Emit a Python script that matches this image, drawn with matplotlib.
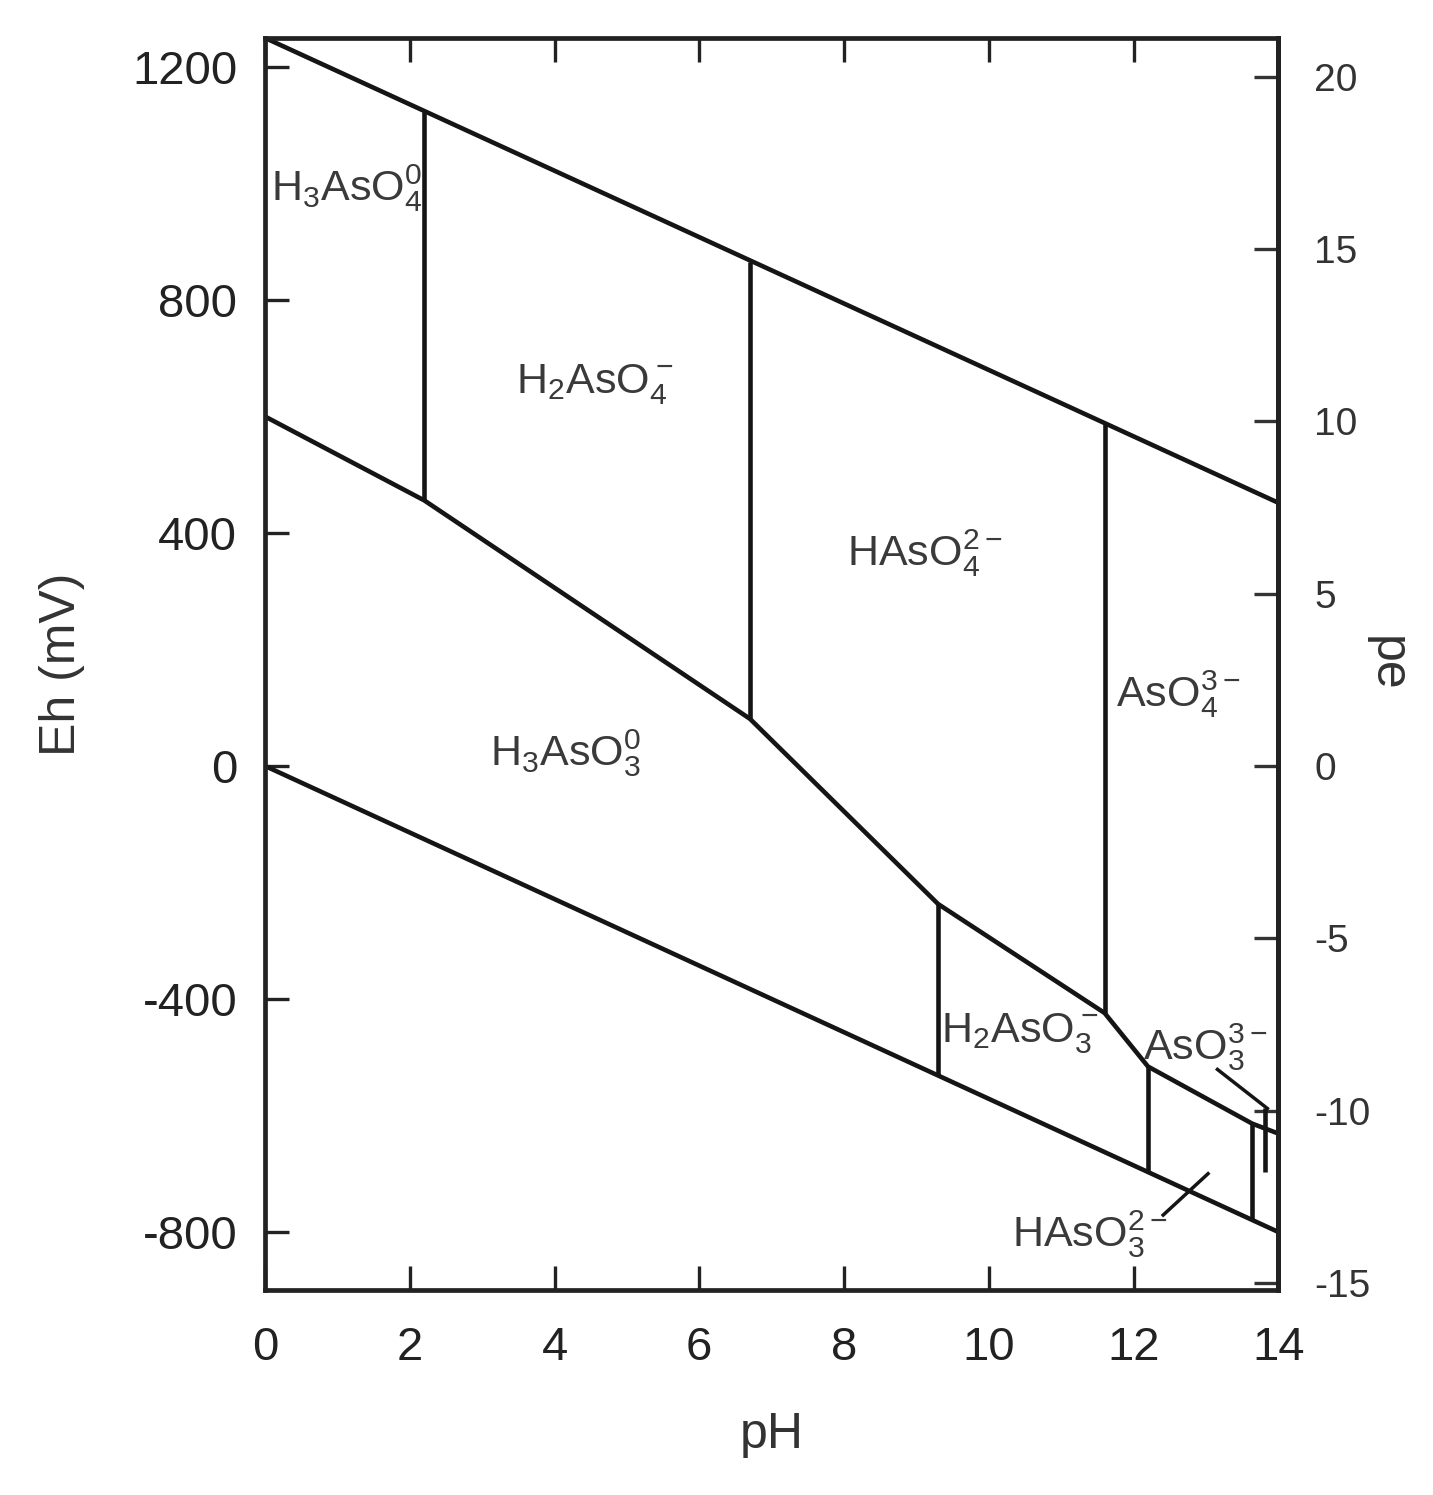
import matplotlib.pyplot as plt

plt.rcParams["font.family"] = ["Liberation Sans", "DejaVu Sans"]
plt.rcParams["axes.unicode_minus"] = False
plt.rcParams["mathtext.fontset"] = "custom"
plt.rcParams["mathtext.rm"] = "Liberation Sans"

# water stability limits
upper_ph = [0, 14]
upper_eh = [1250, 452]
lower_ph = [0, 14]
lower_eh = [0, -800]

# As(V) / As(III) boundary
redox_ph = [0, 2.2, 6.7, 9.3, 11.6, 12.2, 13.64, 14]
redox_eh = [600, 456, 81, -237, -424, -516, -614, -631]

# vertical acid/base boundaries: (pH, Eh bottom, Eh top)
vert_ph = [2.2, 6.7, 11.6, 9.3, 12.2, 13.64, 13.82]
vert_lo = [456, 81, -424, -531, -697, -779, -697]
vert_hi = [1123, 865, 590, -237, -516, -614, -588]

species = [r"$\mathregular{H_3AsO_4^0}$", r"$\mathregular{H_2AsO_4^-}$",
           r"$\mathregular{HAsO_4^{2-}}$", r"$\mathregular{AsO_4^{3-}}$",
           r"$\mathregular{H_3AsO_3^0}$", r"$\mathregular{H_2AsO_3^-}$",
           r"$\mathregular{AsO_3^{3-}}$", r"$\mathregular{HAsO_3^{2-}}$"]
label_ph = [1.12, 4.56, 9.12, 12.62, 4.15, 10.43, 12.99, 11.4]
label_eh = [993, 654, 365, 124, 22, -459, -482, -803]

# leader lines for the two small fields
leader_ph = [[13.16, 13.85], [12.41, 13.03]]
leader_eh = [[-521, -588], [-771, -700]]

eh_ticks = [-800, -400, 0, 400, 800, 1200]
pe_ticks = [-15, -10, -5, 0, 5, 10, 15, 20]
ph_ticks = list(range(0, 15, 2))

LINE = "#151515"

fig = plt.figure(figsize=(14.33, 14.95), dpi=100)
ax = fig.add_axes([0.185, 0.137, 0.707, 0.8376])

ax.plot(upper_ph, upper_eh, color=LINE, lw=3.3)
ax.plot(lower_ph, lower_eh, color=LINE, lw=3.3)
ax.plot(redox_ph, redox_eh, color=LINE, lw=3.3)
ax.vlines(vert_ph, vert_lo, vert_hi, color=LINE, lw=3.3)
for xs, ys in zip(leader_ph, leader_eh):
    ax.plot(xs, ys, color=LINE, lw=2.5)

for name, x, y in zip(species, label_ph, label_eh):
    ax.text(x, y, name, fontsize=31, color="#3a3a3a",
            ha="center", va="center")

ax.set_xlim(0, 14)
ax.set_ylim(-900, 1250)
ax.set_xticks(ph_ticks)
ax.set_yticks(eh_ticks)
ax.tick_params(axis="both", direction="in", length=17, width=2.4,
               labelsize=34, colors="#222222", pad=20)
ax.tick_params(axis="x", top=True, pad=26)
ax.set_xlabel("pH", fontsize=36, color="#333333", labelpad=30)
ax.set_ylabel("Eh (mV)", fontsize=36, color="#333333", labelpad=34)
for sp in ax.spines.values():
    sp.set_linewidth(3.4)
    sp.set_color("#222222")

sec = ax.secondary_yaxis("right", functions=(lambda eh: eh / 59.16,
                                             lambda pe: pe * 59.16))
sec.set_yticks(pe_ticks)
sec.tick_params(direction="in", length=17, width=2.4, labelsize=28,
                colors="#333333", pad=26)
sec.spines["right"].set_linewidth(3.4)
sec.set_ylabel("pe", fontsize=36, color="#333333", rotation=270,
               labelpad=28)

fig.savefig("out.png", dpi=100)
